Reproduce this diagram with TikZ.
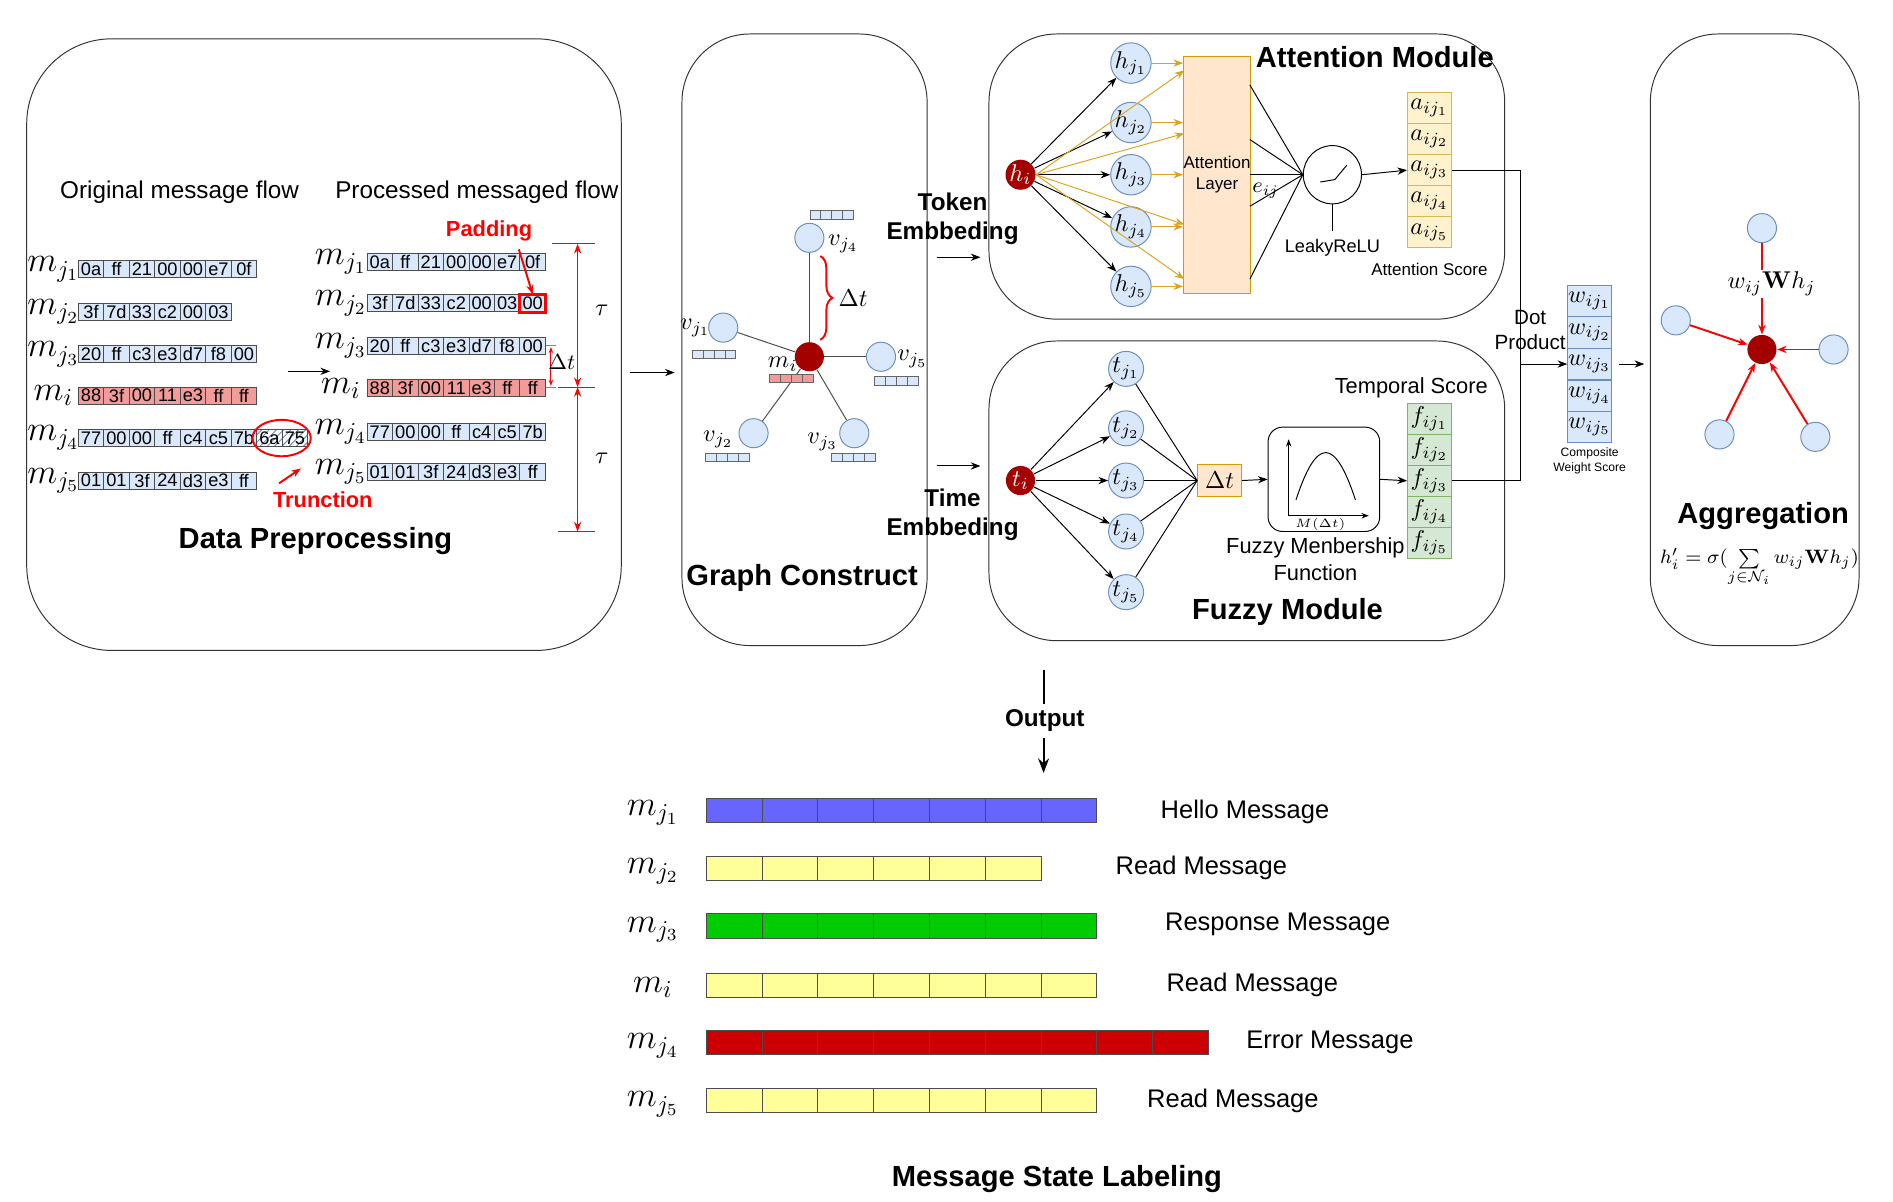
\documentclass[tikz,border=0pt]{standalone}
\usepackage{amsmath,amssymb}
\usepackage[no-math]{fontspec}
\setmainfont{Liberation Sans}
\usetikzlibrary{arrows.meta,patterns,decorations.pathreplacing}
\definecolor{cblue}{HTML}{DAE8FC}\definecolor{bblue}{HTML}{6C8EBF}
\definecolor{cred}{HTML}{F19C99}\definecolor{dred}{HTML}{A50000}
\definecolor{corg}{HTML}{FFE6CC}\definecolor{borg}{HTML}{D79B00}
\definecolor{cyel}{HTML}{FFF2CC}\definecolor{byel}{HTML}{D6B656}
\definecolor{cgrn}{HTML}{D5E8D4}\definecolor{bgrn}{HTML}{82B366}
\definecolor{gold}{HTML}{D9A520}
\definecolor{lblue}{HTML}{6666FF}\definecolor{lyel}{HTML}{FFFF99}
\definecolor{lgrn}{HTML}{00CC00}\definecolor{lred}{HTML}{CC0000}
\tikzset{
 panel/.style={draw=black!80,rounded corners=28pt},
 hcell/.style={draw=black!70,fill=cblue,minimum width=10.5pt,minimum height=7pt,inner sep=0pt,font=\fontsize{7.5}{8}\selectfont},
 rcell/.style={hcell,fill=cred},
 lab/.style={font=\fontsize{10}{12}\selectfont},
 ttl/.style={font=\bfseries\fontsize{12}{14}\selectfont},
 bnode/.style={circle,draw=bblue,fill=cblue,minimum size=12pt,inner sep=0pt},
 rnode/.style={circle,fill=dred,minimum size=12pt,inner sep=0pt,text=white},
 sarr/.style={-{Stealth[length=4pt]}},
 gcell/.style={draw=black!60,minimum width=4.5pt,minimum height=3.5pt,inner sep=0pt},
 stk/.style={minimum width=18pt,minimum height=12.8pt,inner sep=0pt},
 bar/.style={draw=black!70,minimum width=23pt,minimum height=10pt,inner sep=0pt},
 mlab/.style={font=\Large},
}
\newcommand\cellrow[5]{% name x y style list
 \foreach \t [count=\k] in {#5}{\node[#4] (#1\k) at ({#2+(\k-1)*21},#3) {\t};}}
\newcommand\barrow[4]{% name y n colour
 \foreach \k in {1,...,#3}{\node[bar,fill=#4] (#1\k) at ({605+(\k-1)*46},#2) {};}}
\begin{document}
\begin{tikzpicture}[x=0.5pt,y=-0.5pt]
\useasboundingbox (0,0) rectangle (1560,990);
% panels
\draw[panel,rounded corners=35pt] (22,32) rectangle (512,536);
\draw[panel] (562,28) rectangle (764,532);
\draw[panel] (815,28) rectangle (1240,263);
\draw[panel] (815,281) rectangle (1240,528);
\draw[panel] (1360,28) rectangle (1532,532);
% ---------- data preprocessing
\node[lab] (t1) at (148,158) {Original message flow};
\node[lab] (t2) at (393,158) {Processed messaged flow};
\node[ttl] (t3) at (260,446) {Data Preprocessing};
\foreach \n/\y/\l in {a/222/m_{j_1},b/257/m_{j_2},c/292/m_{j_3},d/326/m_i,e/361/m_{j_4},f/396/m_{j_5}}{\node[mlab] (L\n) at (44,\y) {$\l$};}
\cellrow{oa}{75}{222}{hcell}{0a,ff,21,00,00,e7,0f}
\cellrow{ob}{75}{257}{hcell}{3f,7d,33,c2,00,03}
\cellrow{oc}{75}{292}{hcell}{20,ff,c3,e3,d7,f8,00}
\cellrow{od}{75}{326}{rcell}{88,3f,00,11,e3,ff,ff}
\cellrow{oe}{75}{361}{hcell}{77,00,00,ff,c4,c5,7b}
\node[hcell,pattern=north east lines,pattern color=bblue] (oe8) at (222,361) {6a};
\node[hcell,pattern=north east lines,pattern color=bblue] (oe9) at (243,361) {75};
\cellrow{of}{75}{396}{hcell}{01,01,3f,24,d3,e3,ff}
\foreach \n/\y/\l in {a/216/m_{j_1},b/250/m_{j_2},c/285/m_{j_3},d/320/m_i,e/356/m_{j_4},f/389/m_{j_5}}{\node[mlab] (P\n) at (281,\y) {$\l$};}
\cellrow{pa}{313}{216}{hcell}{0a,ff,21,00,00,e7,0f}
\cellrow{pb}{313}{250}{hcell}{3f,7d,33,c2,00,03,00}
\cellrow{pc}{313}{285}{hcell}{20,ff,c3,e3,d7,f8,00}
\cellrow{pd}{313}{320}{rcell}{88,3f,00,11,e3,ff,ff}
\cellrow{pe}{313}{356}{hcell}{77,00,00,ff,c4,c5,7b}
\cellrow{pf}{313}{389}{hcell}{01,01,3f,24,d3,e3,ff}
\draw[red,line width=1.2pt] (pb7.south west) rectangle (pb7.north east);
\node[red,font=\bfseries\fontsize{9}{10}\selectfont] (pad) at (403,190) {Padding};
\draw[red,sarr,thick] (pad.south east) ++(-18,0) -- (pb7.north);
\draw[red,thick] (oe9.west) ellipse (24 and 15);
\node[red,font=\bfseries\fontsize{9}{10}\selectfont] (trn) at (266,412) {Trunction};
\draw[red,sarr,thick] (trn.north west) ++(12,0) -- (248,386);
\coordinate (ta) at (476,201); \coordinate (tb) at (476,319); \coordinate (tc) at (476,438);
\draw[red] (455,201) -- (490,201) (460,319) -- (490,319) (460,438) -- (490,438);
\draw[red,{Stealth[length=4pt]}-{Stealth[length=4pt]}] (ta) -- (tb);
\draw[red,{Stealth[length=4pt]}-{Stealth[length=4pt]}] (tb) -- (tc);
\node (tau1) at (496,256) {$\tau$}; \node (tau2) at (496,378) {$\tau$};
\draw[red!70] (450,285) -- (458,285) (450,319) -- (458,319);
\draw[red,{Stealth[length=2.5pt]}-{Stealth[length=2.5pt]}] (454,286) -- (454,318);
\node[font=\small] (dt0) at (463,298) {$\Delta t$};
\coordinate (a1) at (237,306); \coordinate (a2) at (272,306);
\draw[sarr] (a1) -- (a2);
\coordinate (a3) at (519,307); \coordinate (a4) at (556,307);
\draw[sarr] (a3) -- (a4);
% ---------- graph construct
\node[rnode] (gm) at (667,294) {};
\node[bnode] (g4) at (667,196) {};
\node[bnode] (g1) at (596,270) {};
\node[bnode] (g5) at (726,294) {};
\node[bnode] (g2) at (621,357) {};
\node[bnode] (g3) at (704,357) {};
\foreach \g in {g1,g2,g3,g4,g5} \draw[black!70] (gm) -- (\g);
\foreach \n/\x/\y/\c in {c4/672/177/cblue,c1/575/292/cblue,c5/725/314/cblue,c2/586/377/cblue,c3/690/377/cblue,cm/639/312/cred}{
 \foreach \k in {1,...,4}{\node[gcell,fill=\c] (\n\k) at ({\x+(\k-1)*9},\y) {};}}
\node (lv4) at (695,201) {$v_{j_4}$};
\node (lv1) at (573,270) {$v_{j_1}$};
\node (lv5) at (752,296) {$v_{j_5}$};
\node (lv2) at (592,362) {$v_{j_2}$};
\node (lv3) at (678,364) {$v_{j_3}$};
\node (lvm) at (645,300) {$m_i$};
\draw[red,thick,decorate,decoration={brace,amplitude=5pt}] (676,211) -- (676,280);
\node (dtg) at (703,246) {$\Delta t$};
\node[ttl] (gct) at (661,476) {Graph Construct};
% embedding arrows
\node[font=\bfseries\fontsize{10}{12}\selectfont,align=center] (tok) at (785,180) {Token\\Embbeding};
\node[font=\bfseries\fontsize{10}{12}\selectfont,align=center] (tim) at (785,424) {Time\\Embbeding};
\coordinate (e1) at (772,212); \coordinate (e2) at (808,212);
\coordinate (e3) at (772,384); \coordinate (e4) at (808,384);
\draw[sarr] (e1) -- (e2); \draw[sarr] (e3) -- (e4);
% ---------- attention module
\node[font=\bfseries\fontsize{12}{14}\selectfont] (amt) at (1133,47) {Attention Module};
\node[rnode] (hi) at (841,144) {$h_i$};
\node[draw=borg,fill=corg,minimum width=27pt,minimum height=97.5pt,inner sep=0pt,align=center,font=\fontsize{7}{8.5}\selectfont] (att) at (1003,144) {Attention\\Layer};
\foreach \k/\y in {1/52,2/101,3/144,4/187,5/236}{
 \node[bnode,inner sep=0pt] (h\k) at (932,\y) {$h_{j_\k}$};
 \draw[sarr] (hi) -- (h\k);
 \draw[gold,sarr] (h\k) -- (att.west |- h\k);}
\foreach \y in {58,110,185,230}{\draw[gold,sarr] (hi.east) -- (976,\y);}
\node[circle,draw,minimum size=24pt] (relu) at (1098,144) {};
\draw (1088,150) -- (1100,148) -- (1110,136);
\foreach \y in {70,115,144,170,230}{\draw (1030,\y) -- (relu.west);}
\node[font=\small] (eij) at (1043,157) {$e_{ij}$};
\coordinate (rl) at (1098,190);
\draw (relu.south) -- (rl);
\node[font=\fontsize{7.5}{9}\selectfont] (lrl) at (1098,204) {LeakyReLU};
\foreach \k in {1,...,5}{\node[stk,draw=byel,fill=cyel] (a\k) at (1178,{89+(\k-1)*25.6}) {$a_{ij_\k}$};}
\draw[sarr] (relu.east) -- (a3.west);
\node[font=\fontsize{7}{9}\selectfont] (ats) at (1178,222) {Attention Score};
% ---------- fuzzy module
\node[ttl] (fmt) at (1061,504) {Fuzzy Module};
\node[rnode] (ti) at (841,396) {$t_i$};
\node[draw=borg,fill=corg,minimum width=18pt,minimum height=13pt,inner sep=0pt] (dtb) at (1005,396) {$\Delta t$};
\foreach \k/\y in {1/304,2/353,3/396,4/438,5/488}{
 \node[bnode] (t\k x) at (928,\y) {$t_{j_\k}$};
 \draw[sarr] (ti) -- (t\k x);
 \draw (t\k x) -- (dtb.west);}
\node[draw,rounded corners=6pt,minimum width=46pt,minimum height=43pt] (fmf) at (1091,395) {};
\draw[-{Stealth[length=3pt]}] (1062,425) -- (1062,362);
\draw[-{Stealth[length=3pt]}] (1062,425) -- (1128,425);
\draw (1068,412) .. controls (1085,360) and (1100,360) .. (1117,412);
\node[font=\tiny] (mdt) at (1088,432) {$M(\Delta t)$};
\draw[sarr] (dtb.east) -- (fmf.west);
\node[align=center,font=\fontsize{9}{11}\selectfont] (fmfl) at (1084,461) {Fuzzy Menbership\\Function};
\node[font=\fontsize{9}{11}\selectfont] (tsc) at (1163,320) {Temporal Score};
\foreach \k in {1,...,5}{\node[stk,draw=bgrn,fill=cgrn] (f\k) at (1178,{345+(\k-1)*25.6}) {$f_{ij_\k}$};}
\draw[sarr] (fmf.east) -- (f3.west);
% ---------- combine
\foreach \k in {1,...,5}{\node[stk,draw=bblue,fill=cblue] (w\k) at (1310,{248+(\k-1)*26}) {$w_{ij_\k}$};}
\coordinate (jn) at (1253,300);
\draw (a3.east) -| (jn);
\draw (f3.east) -| (jn);
\draw[sarr] (jn) -- (w3.west |- jn);
\node[align=center,font=\fontsize{8.5}{10}\selectfont] (dp) at (1261,272) {Dot\\Product};
\node[align=center,font=\fontsize{5}{6}\selectfont] (cws) at (1310,380) {Composite\\Weight Score};
\coordinate (g0) at (1355,300);
\draw[sarr] (1334,300) -- (g0);
% ---------- aggregation
\node[rnode] (ac) at (1452,288) {};
\foreach \n/\x/\y in {b1/1452/188,b2/1381/264,b3/1511/288,b4/1417/358,b5/1496/360}{
 \node[bnode] (\n) at (\x,\y) {};
 \draw[red,sarr,thick] (\n) -- (ac);}
\node[fill=white,inner sep=1pt] (wlab) at (1460,234) {$w_{ij}\mathbf{W}h_j$};
\node[ttl] (agt) at (1453,425) {Aggregation};
\node[font=\footnotesize] (agf) at (1450,468) {$h'_i=\sigma(\sum\limits_{j\in\mathcal{N}_i} w_{ij}\mathbf{W}h_j)$};
% ---------- output
\coordinate (o1) at (860,552); \coordinate (o2) at (860,580);
\draw[thick] (o1) -- (o2);
\node[font=\bfseries\fontsize{10}{12}\selectfont] (outp) at (861,594) {Output};
\coordinate (o3) at (860,608); \coordinate (o4) at (860,637);
\draw[thick,-{Stealth[length=6pt]}] (o3) -- (o4);
\barrow{ba}{668}{7}{lblue}
\barrow{bb}{716}{6}{lyel}
\barrow{bc}{763}{7}{lgrn}
\barrow{bd}{812}{7}{lyel}
\barrow{be}{859}{9}{lred}
\barrow{bf}{907}{7}{lyel}
\foreach \l/\y in {m_{j_1}/670,m_{j_2}/718,m_{j_3}/766,m_i/814,m_{j_4}/862,m_{j_5}/910}{\node[mlab] at (538,\y) {$\l$};}
\node[font=\fontsize{10.5}{12}\selectfont] (l1) at (1026,669) {Hello Message};
\node[font=\fontsize{10.5}{12}\selectfont] (l2) at (990,715) {Read Message};
\node[font=\fontsize{10.5}{12}\selectfont] (l3) at (1053,762) {Response Message};
\node[font=\fontsize{10.5}{12}\selectfont] (l4) at (1032,812) {Read Message};
\node[font=\fontsize{10.5}{12}\selectfont] (l5) at (1096,859) {Error Message};
\node[font=\fontsize{10.5}{12}\selectfont] (l6) at (1016,907) {Read Message};
\node[ttl] (msl) at (871,972) {Message State Labeling};
\end{tikzpicture}
\end{document}
